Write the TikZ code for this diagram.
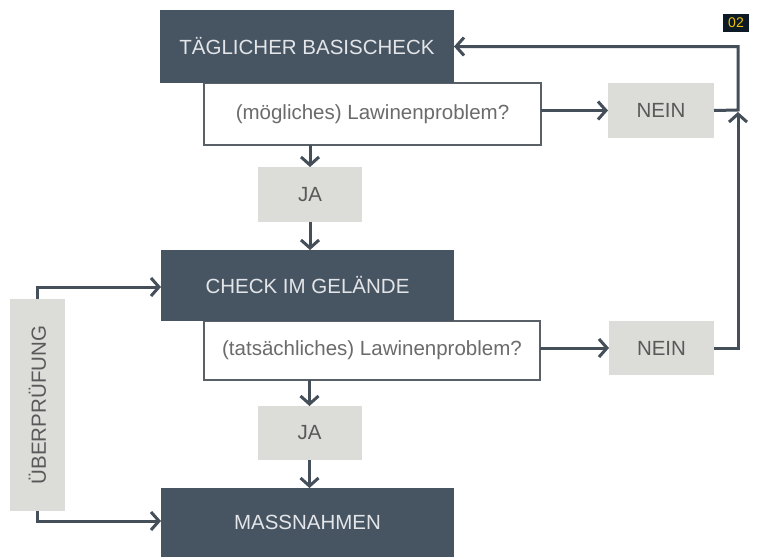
\documentclass[tikz,border=0pt]{standalone}
\usepackage{fontspec}
\setmainfont{Liberation Sans}
\usetikzlibrary{arrows.meta}
\definecolor{darkbox}{HTML}{475563}
\definecolor{graybox}{HTML}{DCDCD9}
\definecolor{linecol}{HTML}{454F5A}
\definecolor{framecol}{HTML}{5A6068}
\definecolor{badgebg}{HTML}{0B1A24}
\definecolor{badgefg}{HTML}{F0C000}
\begin{document}
\begin{tikzpicture}[x=1pt,y=-1pt,
  basebox/.style={rectangle,inner sep=0pt,outer sep=0pt,font=\fontsize{20.5}{24}\selectfont},
  darkstyle/.style={basebox,fill=darkbox,text=white!85!darkbox},
  questbox/.style={basebox,draw=framecol,line width=1.5pt,fill=white,text=black!58},
  answerbox/.style={basebox,fill=graybox,text=black!65},
  conn/.style={draw=linecol,line width=3pt,-{Straight Barb[length=8pt,width=18pt,line width=3pt]}},
  plainline/.style={draw=linecol,line width=3pt}
]
\useasboundingbox[fill=white] (0,0) rectangle (758,557);

% question boxes first (under dark boxes)
\node[questbox,minimum width=337pt,minimum height=62pt] (q1) at (372.5,114) {(mögliches) Lawinenproblem?};
\node[questbox,minimum width=336pt,minimum height=59pt] (q2) at (372,350.5) {(tatsächliches) Lawinenproblem?};

\node[darkstyle,minimum width=294pt,minimum height=73pt] (b1) at (307,46.5) {TÄGLICHER BASISCHECK};
\node[darkstyle,minimum width=293pt,minimum height=71pt] (b2) at (307.5,285.5) {CHECK IM GELÄNDE};
\node[darkstyle,minimum width=293pt,minimum height=69pt] (b3) at (307.5,522.5) {MASSNAHMEN};

\node[answerbox,minimum width=104pt,minimum height=55pt] (ja1) at (310,194.5) {JA};
\node[answerbox,minimum width=104pt,minimum height=54pt] (ja2) at (309.5,433) {JA};
\node[answerbox,minimum width=106pt,minimum height=55pt] (n1) at (661,110.5) {NEIN};
\node[answerbox,minimum width=105pt,minimum height=54pt] (n2) at (661.5,348) {NEIN};
\node[answerbox,minimum width=55pt,minimum height=212pt] (ue) at (37.5,405) {\rotatebox{90}{ÜBERPRÜFUNG}};

\node[rectangle,fill=badgebg,text=badgefg,inner sep=0pt,minimum width=26pt,minimum height=18pt,font=\fontsize{14}{15}\selectfont] (badge) at (736,23) {02};

\coordinate (c1) at (738,110);
\coordinate (c2) at (738,348);
\coordinate (c3) at (738,112);

% vertical flow
\draw[conn] (q1.south -| ja1.north) -- (ja1.north);
\draw[conn] (ja1.south) -- (b2.north -| ja1.south);
\draw[conn] (q2.south -| ja2.north) -- (ja2.north);
\draw[conn] (ja2.south) -- (b3.north -| ja2.south);

% NEIN branches
\draw[conn] (q1.east |- n1.west) -- (n1.west);
\draw[conn] (q2.east |- n2.west) -- (n2.west);
\draw[conn] (n1.east) -- (c1) |- (b1.east);
\draw[conn] (n2.east) -- (c2) -- (c3);

% Ueberpruefung
\draw[conn] (ue.north) |- ([yshift=-1.5pt]b2.west);
\draw[conn] (ue.south) |- ([yshift=1.5pt]b3.west);
\end{tikzpicture}
\end{document}
